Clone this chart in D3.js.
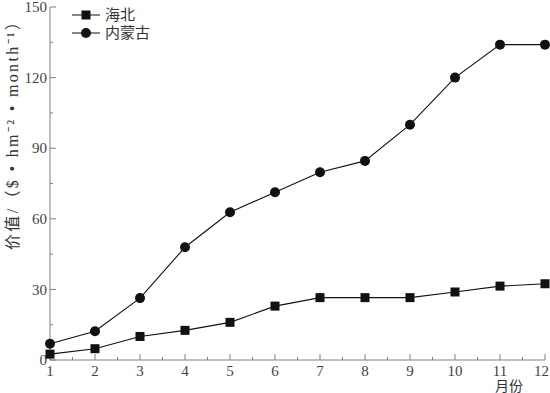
<!DOCTYPE html>
<html>
<head>
<meta charset="utf-8">
<script src="https://cdn.jsdelivr.net/npm/d3@7"></script>
<style>
  body { margin: 0; background: #fff; }
  text { font-family: "Liberation Serif", "Noto Sans CJK SC", serif; }
</style>
</head>
<body>
<div id="chart"></div>
<script>
// data
var months = [1, 2, 3, 4, 5, 6, 7, 8, 9, 10, 11, 12];
var haibei = [2.5, 4.8, 10, 12.6, 16, 22.9, 26.5, 26.5, 26.5, 28.9, 31.4, 32.4];
var neimenggu = [6.9, 12.2, 26.3, 47.9, 62.8, 71.3, 79.8, 84.6, 100, 120, 134, 134];
var yTicks = [0, 30, 60, 90, 120, 150];
var seriesNames = ["海北", "内蒙古"];

var W = 550, H = 393;
var margin = {top: 7, right: 5, bottom: 33, left: 50};

var svg = d3.select("#chart").append("svg")
    .attr("width", W)
    .attr("height", H);

var x = d3.scaleLinear().domain([1, 12]).range([margin.left, W - margin.right]);
var y = d3.scaleLinear().domain([0, 150]).range([H - margin.bottom, margin.top]);

var axisColor = "#808080";

/* x axis - ticks point inward (up) */
var xAxis = svg.append("g")
    .attr("transform", "translate(0," + y(0) + ")");
xAxis.append("line")
    .attr("x1", x(1)).attr("x2", x(12))
    .attr("stroke", axisColor);
var xMinor = d3.range(1, 12.01, 0.5);
xAxis.selectAll(".xt").data(xMinor).enter().append("line")
    .attr("x1", function(d) { return x(d); })
    .attr("x2", function(d) { return x(d); })
    .attr("y1", 0)
    .attr("y2", function(d) { return d % 1 === 0 ? -6 : -3; })
    .attr("stroke", axisColor);
xAxis.selectAll(".xl").data(months).enter().append("text")
    .attr("x", function(d) { return d === 12 ? W - 1 : x(d); })
    .attr("y", 16)
    .attr("text-anchor", function(d) { return d === 12 ? "end" : "middle"; })
    .attr("font-size", 15)
    .attr("fill", "#444")
    .text(function(d) { return d; });
svg.append("text")
    .attr("x", 509).attr("y", 391)
    .attr("text-anchor", "middle")
    .attr("font-size", 14)
    .attr("fill", "#333")
    .text("月份");

/* y axis - ticks point inward (right) */
var yAxis = svg.append("g")
    .attr("transform", "translate(" + x(1) + ",0)");
yAxis.append("line")
    .attr("y1", y(0)).attr("y2", y(150))
    .attr("stroke", axisColor);
var yMinor = d3.range(0, 151, 15);
yAxis.selectAll(".yt").data(yMinor).enter().append("line")
    .attr("y1", function(d) { return y(d); })
    .attr("y2", function(d) { return y(d); })
    .attr("x1", 0)
    .attr("x2", function(d) { return d % 30 === 0 ? 6 : 3; })
    .attr("stroke", axisColor);
yAxis.selectAll(".yl").data(yTicks).enter().append("text")
    .attr("x", -3)
    .attr("y", function(d) { return y(d); })
    .attr("dy", "0.35em")
    .attr("text-anchor", "end")
    .attr("font-size", 15)
    .attr("fill", "#444")
    .text(function(d) { return d; });

svg.append("text")
    .attr("transform", "translate(18,132) rotate(-90)")
    .attr("text-anchor", "middle")
    .attr("font-size", 16)
    .attr("fill", "#333")
    .attr("textLength", 236)
    .attr("lengthAdjust", "spacing")
    .text("价值/（$ • hm⁻² • month⁻¹）");

/* lines */
var line = d3.line()
    .x(function(d, i) { return x(months[i]); })
    .y(function(d) { return y(d); });

svg.append("path")
    .datum(haibei)
    .attr("d", line)
    .attr("fill", "none")
    .attr("stroke", "#111")
    .attr("stroke-width", 1.1);
svg.append("path")
    .datum(neimenggu)
    .attr("d", line)
    .attr("fill", "none")
    .attr("stroke", "#111")
    .attr("stroke-width", 1.1);

var sq = 9;
svg.selectAll(".sq").data(haibei).enter().append("rect")
    .attr("x", function(d, i) { return x(months[i]) - sq / 2; })
    .attr("y", function(d) { return y(d) - sq / 2; })
    .attr("width", sq).attr("height", sq)
    .attr("fill", "#111");
svg.selectAll(".ci").data(neimenggu).enter().append("circle")
    .attr("cx", function(d, i) { return x(months[i]); })
    .attr("cy", function(d) { return y(d); })
    .attr("r", 5)
    .attr("fill", "#111");

/* legend */
var legend = svg.append("g").attr("transform", "translate(72,15)");
seriesNames.forEach(function(name, i) {
    var g = legend.append("g").attr("transform", "translate(0," + (i * 18) + ")");
    g.append("line").attr("x1", 0).attr("x2", 28).attr("stroke", "#111");
    if (i === 0) {
        g.append("rect").attr("x", 14 - 4.5).attr("y", -4.5).attr("width", 9).attr("height", 9).attr("fill", "#111");
    } else {
        g.append("circle").attr("cx", 14).attr("r", 5).attr("fill", "#111");
    }
    g.append("text")
        .attr("x", 33).attr("dy", "0.35em")
        .attr("font-size", 15)
        .attr("fill", "#333")
        .text(name);
});
</script>
</body>
</html>
